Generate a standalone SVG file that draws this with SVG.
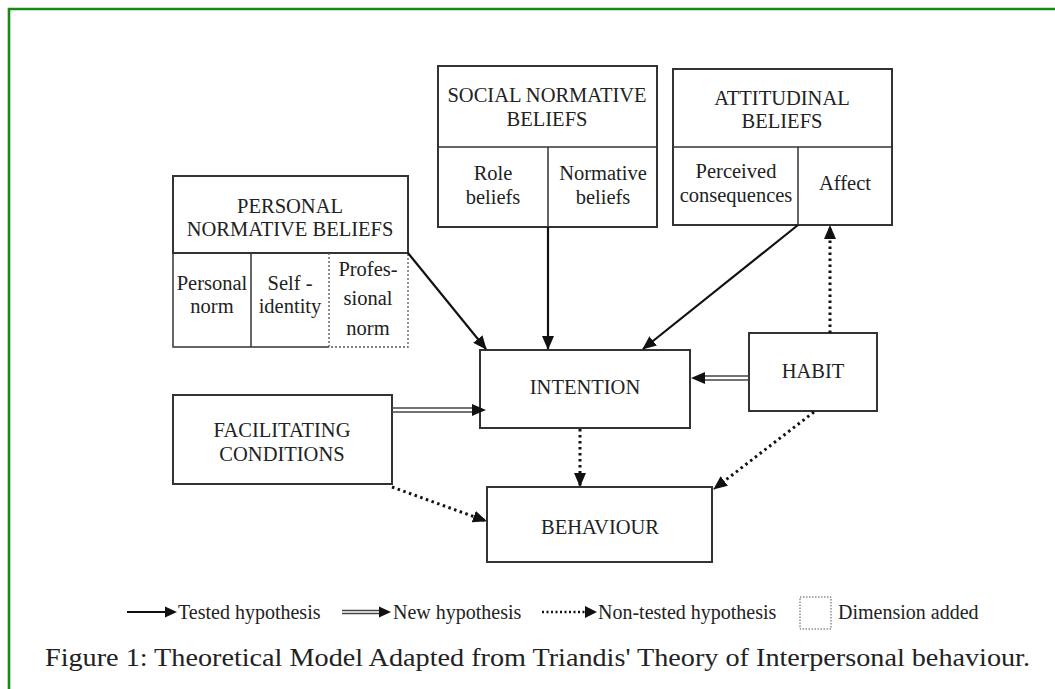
<svg xmlns="http://www.w3.org/2000/svg" width="1055" height="689" viewBox="0 0 1055 689">
<defs>
<style>
.box{fill:#fff;stroke:#333;stroke-width:2}
.thin{fill:none;stroke:#333;stroke-width:1.5}
.dotbox{fill:none;stroke:#555;stroke-width:1.3;stroke-dasharray:2 2}
.t{font-family:"Liberation Serif","Times New Roman",serif;font-size:20.5px;fill:#222;text-anchor:middle}
.lg{font-family:"Liberation Serif","Times New Roman",serif;font-size:20px;fill:#222}
.solid{fill:none;stroke:#111;stroke-width:2.2}
.dotted{fill:none;stroke:#111;stroke-width:3;stroke-dasharray:2.5 3.5}
.dbl{fill:none;stroke:#444;stroke-width:1.6}
</style>
<marker id="ah" viewBox="0 0 14 12" refX="13" refY="6" markerWidth="14" markerHeight="12" markerUnits="userSpaceOnUse" orient="auto">
<path d="M0,0 L14,6 L0,12 Z" fill="#111"/>
</marker>
</defs>
<rect width="1055" height="689" fill="#fff"/>
<path d="M9,689 L9,9 L1055,9" fill="none" stroke="#168a16" stroke-width="2.6"/>

<g id="personal">
<path class="thin" d="M329,253 L173,253 L173,347 L329,347"/>
<rect class="box" x="173" y="176" width="235" height="77"/>
<line class="thin" x1="251" y1="253" x2="251" y2="347"/>
<path class="dotbox" d="M329,253 L329,347 L408,347 L408,253"/>
<text class="t" x="290" y="213">PERSONAL</text>
<text class="t" x="290" y="236">NORMATIVE BELIEFS</text>
<text class="t" x="212" y="290">Personal</text>
<text class="t" x="212" y="313">norm</text>
<text class="t" x="290" y="290">Self -</text>
<text class="t" x="290" y="313">identity</text>
<text class="t" x="368" y="276">Profes-</text>
<text class="t" x="368" y="305">sional</text>
<text class="t" x="368" y="335">norm</text>
</g>

<g id="social">
<rect class="box" x="438" y="66" width="219" height="161"/>
<line class="thin" x1="438" y1="147" x2="657" y2="147"/>
<line class="thin" x1="548" y1="147" x2="548" y2="227"/>
<text class="t" x="547" y="102">SOCIAL NORMATIVE</text>
<text class="t" x="547" y="126">BELIEFS</text>
<text class="t" x="493" y="180">Role</text>
<text class="t" x="493" y="204">beliefs</text>
<text class="t" x="603" y="180">Normative</text>
<text class="t" x="603" y="204">beliefs</text>
</g>

<g id="attitudinal">
<rect class="box" x="673" y="69" width="219" height="156"/>
<line class="thin" x1="673" y1="147" x2="892" y2="147"/>
<line class="thin" x1="798" y1="147" x2="798" y2="225"/>
<text class="t" x="782" y="105">ATTITUDINAL</text>
<text class="t" x="782" y="128">BELIEFS</text>
<text class="t" x="736" y="178">Perceived</text>
<text class="t" x="736" y="202">consequences</text>
<text class="t" x="845" y="190">Affect</text>
</g>

<g id="intention">
<rect class="box" x="480" y="350" width="210" height="78"/>
<text class="t" x="585" y="394">INTENTION</text>
</g>

<g id="habit">
<rect class="box" x="749" y="333" width="128" height="78"/>
<text class="t" x="813" y="378">HABIT</text>
</g>

<g id="facilitating">
<rect class="box" x="173" y="395" width="219" height="89"/>
<text class="t" x="282" y="437">FACILITATING</text>
<text class="t" x="282" y="461">CONDITIONS</text>
</g>

<g id="behaviour">
<rect class="box" x="487" y="487" width="225" height="75"/>
<text class="t" x="600" y="534">BEHAVIOUR</text>
</g>

<g id="connectors">
<line class="solid" x1="408" y1="253" x2="486" y2="349" marker-end="url(#ah)"/>
<line class="solid" x1="548" y1="227" x2="548" y2="349" marker-end="url(#ah)"/>
<line class="solid" x1="798" y1="225" x2="643" y2="349" marker-end="url(#ah)"/>
<line class="dotted" x1="830" y1="333" x2="830" y2="226" marker-end="url(#ah)"/>
<line class="dotted" x1="580" y1="429" x2="580" y2="486" marker-end="url(#ah)"/>
<line class="dotted" x1="814" y1="412" x2="714" y2="489" marker-end="url(#ah)"/>
<line class="dotted" x1="392" y1="487" x2="486" y2="521" marker-end="url(#ah)"/>
<line class="dbl" x1="392" y1="408" x2="474" y2="408"/>
<line class="dbl" x1="392" y1="412" x2="474" y2="412"/>
<path d="M472,404 L486,410 L472,416 Z" fill="#111"/>
<line class="dbl" x1="749" y1="376" x2="703" y2="376"/>
<line class="dbl" x1="749" y1="380" x2="703" y2="380"/>
<path d="M705,372 L691,378 L705,384 Z" fill="#111"/>
</g>

<g id="legend">
<line x1="127" y1="612" x2="166" y2="612" stroke="#111" stroke-width="2"/>
<path d="M165,606.5 L177,612 L165,617.5 Z" fill="#111"/>
<text class="lg" x="178" y="619">Tested hypothesis</text>
<line x1="342" y1="610.5" x2="380" y2="610.5" stroke="#444" stroke-width="1.5"/>
<line x1="342" y1="613.5" x2="380" y2="613.5" stroke="#444" stroke-width="1.5"/>
<path d="M379,606.5 L391,612 L379,617.5 Z" fill="#111"/>
<text class="lg" x="393" y="619">New hypothesis</text>
<line x1="542" y1="612" x2="586" y2="612" stroke="#111" stroke-width="2.5" stroke-dasharray="2 2.5"/>
<path d="M585,606 L597,612 L585,618 Z" fill="#111"/>
<text class="lg" x="598" y="619">Non-tested hypothesis</text>
<rect x="800" y="597" width="31" height="32" fill="none" stroke="#555" stroke-width="1" stroke-dasharray="1.5 1.5"/>
<text class="lg" x="838" y="619">Dimension added</text>
</g>

<text x="45" y="666" font-family="'Liberation Serif','Times New Roman',serif" font-size="25" fill="#222" textLength="985" lengthAdjust="spacingAndGlyphs">Figure 1: Theoretical Model Adapted from Triandis' Theory of Interpersonal behaviour.</text>
</svg>
